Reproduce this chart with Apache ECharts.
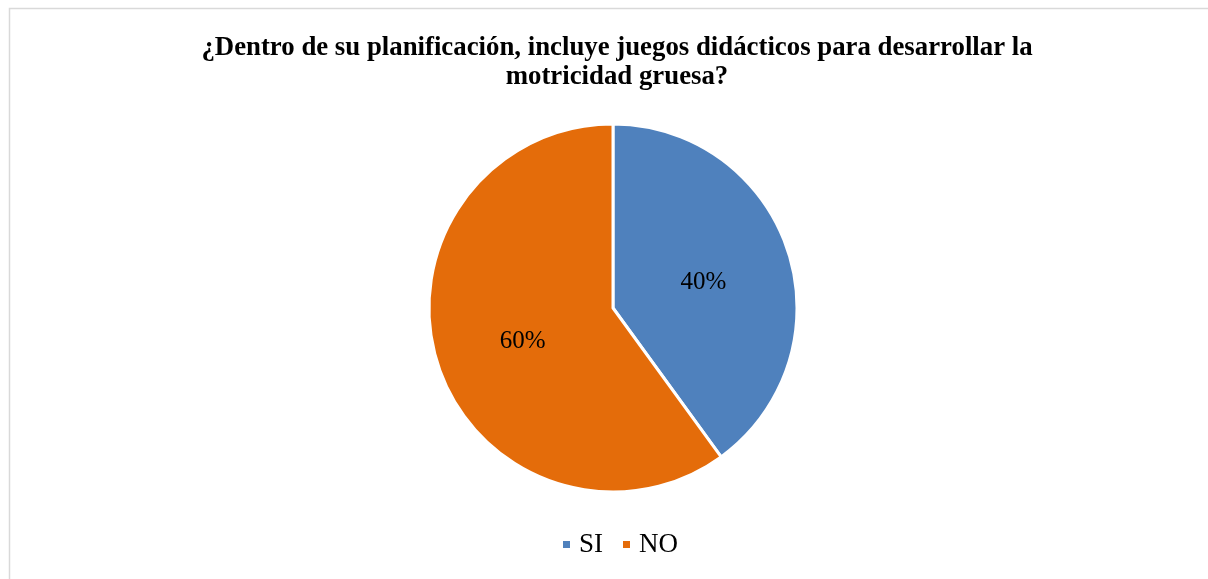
<!DOCTYPE html>
<html>
<head>
<meta charset="utf-8">
<script src="https://cdn.jsdelivr.net/npm/echarts@6/dist/echarts.min.js"></script>
<style>html,body{margin:0;padding:0;background:#fff;}#c{width:1208px;height:579px;}</style>
</head>
<body>
<div id="c"></div>
<script>
const titleText = '¿Dentro de su planificación, incluye juegos didácticos para desarrollar la\nmotricidad gruesa?';
const categories = ['SI', 'NO'];
const values = [40, 60];
const colors = ['#4F81BD', '#E46C0A'];

const chart = echarts.init(document.getElementById('c'));
chart.setOption({
  backgroundColor: '#fff',
  animation: false,
  graphic: [{
    type: 'rect',
    shape: { x: 9.5, y: 8.5, width: 1220, height: 600 },
    style: { fill: 'none', stroke: '#d9d9d9', lineWidth: 1.5 },
    silent: true
  }],
  title: {
    text: titleText,
    left: 612,
    textAlign: 'center',
    top: 29,
    textStyle: {
      fontFamily: 'Liberation Serif',
      fontWeight: 'bold',
      fontSize: 26.8,
      lineHeight: 29,
      color: '#000'
    }
  },
  legend: {
    data: categories,
    bottom: 16,
    left: 556,
    icon: 'rect',
    itemWidth: 9,
    itemHeight: 9,
    itemGap: 18,
    textStyle: { fontFamily: 'Liberation Serif', fontSize: 27, color: '#000', padding: [0, 0, 0, 3] }
  },
  series: [{
    type: 'pie',
    center: [613, 308],
    radius: 184,
    startAngle: 90,
    clockwise: true,
    data: categories.map((c, i) => ({ name: c, value: values[i], itemStyle: { color: colors[i] } })),
    itemStyle: { borderColor: '#fff', borderWidth: 3 },
    label: {
      position: 'inside',
      formatter: p => p.value + '%',
      fontFamily: 'Liberation Serif',
      fontSize: 25,
      color: '#000'
    },
    labelLayout: { dy: 4 },
    labelLine: { show: false },
    emphasis: { disabled: true }
  }]
});
</script>
</body>
</html>
